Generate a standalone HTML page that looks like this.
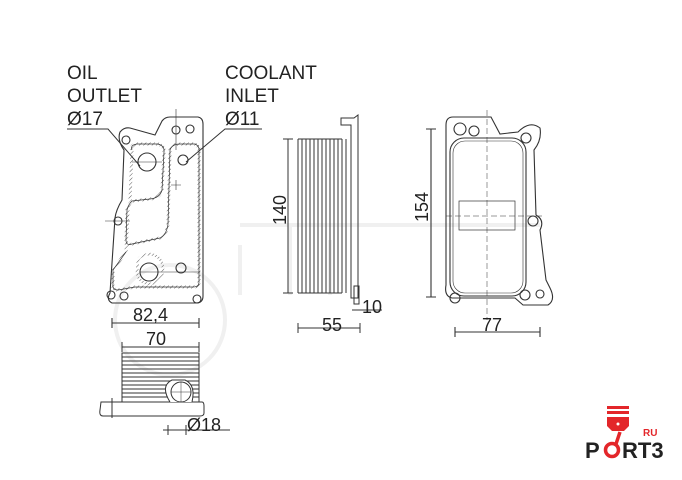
<!DOCTYPE html>
<html><head><meta charset="utf-8"><style>
html,body{margin:0;padding:0;background:#fff;width:682px;height:480px;overflow:hidden}
svg{display:block}
text{font-family:"Liberation Sans",sans-serif;fill:#222}
</style></head><body>
<svg width="682" height="480" viewBox="0 0 682 480" xmlns="http://www.w3.org/2000/svg">
<defs>
<pattern id="h" width="3" height="3" patternUnits="userSpaceOnUse" patternTransform="rotate(45)">
<line x1="0" y1="0" x2="0" y2="3" stroke="#555" stroke-width="1"/></pattern>
</defs>
<g fill="none" stroke="#f0f0f0" stroke-width="4">
<circle cx="170" cy="320" r="55"/>
<path d="M240 225 h300 M240 245 v50 M290 225 v70 M330 240 v55"/>
</g>
<g font-size="19">
<text x="67" y="79">OIL</text><text x="67" y="102">OUTLET</text><text x="67" y="125">Ø17</text>
<text x="225" y="79">COOLANT</text><text x="225" y="102">INLET</text><text x="225" y="125">Ø11</text>
</g>
<g stroke="#333" stroke-width="1" fill="none">
<path d="M67 129 H108 L140 166"/>
<path d="M262 129 H225 L186 162"/>
</g>
<!-- front view -->
<g stroke="#333" stroke-width="1.1" fill="none">
<path d="M162 121 Q165 117 170 117 H198 Q203 118 203 124 V296 Q203 303 196 303 H112 Q106 300 110 293 L115 218 Q116 210 122 200 L124 150 Q117 140 120 132 Q124 127 130 128 L155 135 Z"/>
<path id="g" d="M132 150 Q130 145 137 144 H158 Q165 146 164 152 L162 190 Q160 198 150 199 L132 201 Q128 205 127 210 L126 240 Q126 246 132 244 L160 238 Q167 234 168 224 L170 150 Q172 144 180 144 H195 Q200 146 199 152 V282 Q199 287 193 287 H135 L118 290 Q112 290 113 284 V270 L126 252 L128 210 M132 150 L130 200" stroke-width="3" stroke="url(#h)"/>
<path d="M132 150 Q130 145 137 144 H158 Q165 146 164 152 L162 190 Q160 198 150 199 L132 201 Q128 205 127 210 L126 240 Q126 246 132 244 L160 238 Q167 234 168 224 L170 150 Q172 144 180 144 H195 Q200 146 199 152 V282 Q199 287 193 287 H135 L118 290 Q112 290 113 284 V270 L126 252" stroke-width="0.7"/>
<path d="M138 260 Q140 255 150 254 Q162 256 163 268 Q163 282 150 284 Q138 283 137 272 Z" stroke-width="2.5" stroke="url(#h)"/>
<circle cx="147" cy="162" r="9"/><circle cx="183" cy="160" r="5"/>
<circle cx="149" cy="272" r="9"/><circle cx="181" cy="268" r="5"/>
<circle cx="176" cy="130" r="4"/><circle cx="190" cy="129" r="4"/>
<circle cx="126" cy="140" r="4"/><circle cx="118" cy="221" r="4"/>
<circle cx="111" cy="295" r="4"/><circle cx="124" cy="296" r="4"/><circle cx="197" cy="299" r="4"/>
<path d="M176 109 V150 M132 162 H162 M140 272 H200 M105 221 H130 M176 180 v10 M171 185 h10" stroke-width="0.6"/>
<path d="M112 323 H199 M112 318 v10 M199 318 v10"/>
</g>
<text x="133" y="321" font-size="18">82,4</text>
<!-- side view -->
<g stroke="#333" stroke-width="1" fill="none">
<path d="M298 139 H342 M298 293 H342 M298 139 V293"/>
<path d="M302 139 V293 M306 139 V293 M310 139 V293 M314 139 V293 M318 139 V293 M322 139 V293 M326 139 V293 M330 139 V293 M334 139 V293 M338 139 V293 M342 139 V293"/>
<path d="M341 118 H354 L358 115 V298 H351 V125 H341 Z"/>
<path d="M346 139 V293"/>
<path d="M354 286 h5 v18 h-5 z"/>
<path d="M288 139 V293 M283 139 h10 M283 293 h10"/>
<path d="M298 328 H360 M298 323 v10 M360 323 v10"/>
<path d="M352 310 H382"/>
</g>
<text transform="translate(286,225) rotate(-90)" font-size="18">140</text>
<text x="322" y="331" font-size="18">55</text>
<text x="362" y="313" font-size="18">10</text>
<!-- right view -->
<g stroke="#333" stroke-width="1.1" fill="none">
<path d="M453 117 H491 L500 134 L518 132 Q530 120 540 128 Q542 140 534 150 L536 215 Q545 220 540 230 L546 280 L550 288 Q556 300 548 305 H523 L515 298 H452 Q444 296 446 285 V125 Q446 117 453 117 Z"/>
<rect x="450" y="138" width="76" height="158" rx="14"/>
<rect x="453" y="141" width="70" height="152" rx="12" stroke-width="0.6"/>
<rect x="459" y="201" width="56" height="29" stroke-width="0.7"/>
<circle cx="460" cy="129" r="6"/><circle cx="474" cy="131" r="5"/>
<circle cx="526" cy="138" r="5"/><circle cx="533" cy="221" r="5"/>
<circle cx="455" cy="298" r="5"/><circle cx="525" cy="295" r="5"/><circle cx="540" cy="294" r="4"/>
<path d="M487 110 V320 M446 216 H545" stroke-width="0.5" stroke-dasharray="6 3"/>
<path d="M431 129 V297 M426 129 h10 M426 297 h10"/>
<path d="M455 332 H540 M455 327 v10 M540 327 v10"/>
</g>
<text transform="translate(428,222) rotate(-90)" font-size="18">154</text>
<text x="482" y="331" font-size="18">77</text>
<!-- bottom view -->
<g stroke="#333" stroke-width="1" fill="none">
<path d="M122 347 H199 M122 342 v10 M199 342 v10"/>
<path d="M122 353 H199 V402 H122 Z"/>
<path d="M122 357 H199 M122 361 H199 M122 365 H199 M122 369 H199 M122 373 H199 M122 377 H199 M122 381 H199 M122 385 H199 M122 389 H199 M122 393 H199 M122 397 H199"/>
<path d="M101 402 H202 Q204 402 204 406 V413 Q204 416 200 416 H103 Q99 416 100 410 Z"/>
<path d="M170 402 Q160 386 172 380 L185 380 Q196 385 192 402" fill="#fff"/>
<circle cx="181" cy="392" r="10" fill="#fff"/>
<path d="M171 392 H191 M181 382 V402" stroke-width="0.5"/>
<path d="M163 430 H230 M168 425 v10 M186 425 v10 M112 398 v20"/>
</g>
<text x="146" y="345" font-size="18">70</text>
<text x="187" y="431" font-size="18">Ø18</text>
<!-- logo -->
<g fill="#e3262a">
<rect x="607" y="406" width="22" height="3"/><rect x="607" y="411" width="22" height="3"/>
<path d="M607 417 H629 V426 L624 431 H612 L607 426 Z"/>
</g>
<circle cx="618" cy="424" r="1.5" fill="#fff"/>
<text x="643" y="436" font-size="10" font-weight="bold" style="fill:#e3262a">RU</text>
<text x="585" y="458" font-size="22" font-weight="bold" style="fill:#222">P</text>
<circle cx="612" cy="450" r="6.5" fill="none" stroke="#e3262a" stroke-width="3.5"/>
<path d="M616 444 L620 432" stroke="#e3262a" stroke-width="3.5"/>
<text x="622" y="458" font-size="22" font-weight="bold" style="fill:#222">RT3</text>
</svg>
</body></html>
